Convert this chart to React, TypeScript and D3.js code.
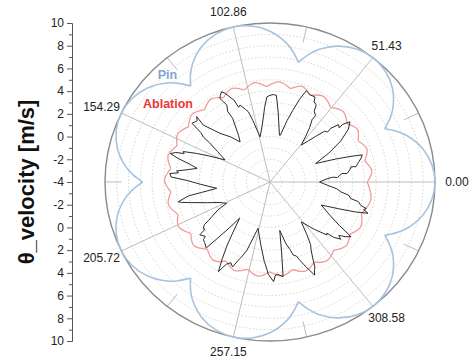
import { useEffect, useRef } from "react";
import * as d3 from "d3";

// angular axis (degrees) and radial axis
const angleLabels = [0, 51.43, 102.86, 154.29, 205.72, 257.15, 308.58];
const radialTicks = [-4, -2, 0, 2, 4, 6, 8, 10];

// Pin: one lobe (offset from the spoke in degrees -> value), repeated on each spoke
const pinLobeOffsets = [-25.71, -24.5, -22.5, -19.29, -12.86, -6.43, 0, 6.43, 12.86, 19.29, 22.5, 24.5, 25.71];
const pinLobeValues = [6.8, 7.13, 7.65, 8.33, 9.28, 9.82, 10, 9.82, 9.28, 8.33, 7.65, 7.13, 6.8];

// Ablation: scallops, cusp angle / cusp value / peak value
const ablationCuspAngles = [0, 13, 26, 38, 52, 66, 78, 92, 105, 118, 131, 145, 158, 172, 186, 200, 214, 228, 242, 256, 270, 284, 298, 312, 326, 340];
const ablationCuspValues = [4.25, 4.25, 4.3, 4.3, 4.35, 4.35, 4.4, 4.4, 4.4, 4.4, 4.45, 4.45, 4.5, 4.5, 4.45, 4.3, 4.1, 3.95, 3.9, 3.9, 3.9, 3.95, 4.0, 4.1, 4.2, 4.25];
const ablationPeakValues = [4.7, 4.72, 4.75, 4.78, 4.8, 4.85, 4.85, 4.85, 4.85, 4.85, 4.9, 4.9, 4.95, 4.95, 4.85, 4.7, 4.55, 4.4, 4.35, 4.35, 4.35, 4.4, 4.45, 4.55, 4.65, 4.7];

// θ velocity trace (angle in degrees, value)
const traceAngles = [
  0, 3, 4.5, 4, 7, 6.5, 9, 11, 10.5, 13, 15, 17, 18.5, 20, 22.8,
  27, 31, 35, 38, 39.5, 39, 41, 42.5, 42, 44, 46, 48, 50.8,
  53, 55, 57, 56.5, 59, 60, 62, 63, 66, 69, 71, 73, 75, 78,
  79, 83.4, 85, 86, 88, 90, 92, 94, 95.6, 98, 102,
  105, 106.5, 108, 110.6, 112, 113, 116, 117.3, 119, 120, 118.4, 120, 119.5, 121.7, 123, 125.7,
  130, 134.7, 136, 138.5, 137.2, 139, 140, 142, 143.5, 145, 146, 149, 153,
  156, 158, 160, 161, 162, 163.5, 165, 167, 169,
  171, 173, 174, 175, 177, 179, 182, 187,
  189, 190, 192.6, 193.5, 195, 199, 203, 207,
  209, 212, 213, 214, 216, 217, 218, 221, 222, 224, 227, 228, 229.5, 231,
  235, 237, 239, 241, 242, 243, 245, 246, 247, 249, 250, 252, 256,
  262, 266, 267, 269, 272, 273, 274, 277.6, 279, 281,
  284, 286, 287, 289, 290, 292, 294.8, 296, 297, 298, 300, 302, 304, 307,
  312, 316, 317, 318, 320, 321, 322, 323, 325, 327, 330, 335,
  338, 340, 341.7, 343, 344, 345, 347, 348, 350, 352, 354, 356, 360,
];
const traceValues = [
  0.2, 0.76, 1.32, 1.74, 2.16, 2.58, 2.86, 3, 3.42, 3.7, 3.98, 4.19, 3, 1.88, 0.2,
  1.6, 3, 4.12, 4.61, 3.98, 3.56, 3.7, 3, 2.58, 2.44, 1.6, 0.9, 0.2,
  1.04, 1.88, 2.58, 3, 3.28, 3.84, 3.98, 4.4, 4.4, 4.61, 3.7, 2.58, 1.6, 0.2,
  0.2, 2.09, 3, 3.66, 3.7, 3.63, 3.5, 2.58, 1.74, 0.9, 0.06,
  1.6, 2.44, 2.72, 3.24, 3.1, 3.84, 4.68, 4.95, 4.7, 4.5, 3.7, 3.2, 2.44, 1.38, 0.9, 0.34,
  1.18, 2.02, 2.5, 3.56, 4.47, 4.2, 4.26, 4.4, 3.28, 2.9, 2.2, 1.18, 0.28,
  1.6, 2.72, 3.84, 3.7, 4.4, 4.82, 4.12, 3, 2.3,
  3, 3.98, 3.8, 4.54, 4.4, 3, 1.88, 0.55,
  1.88, 3, 3.98, 3.7, 3, 1.6, 0.62, 0.13,
  1.04, 1.88, 2.2, 2.72, 3, 2.9, 3.56, 3.28, 3.6, 3.7, 3.94, 2.72, 1.32, 0.09,
  1.6, 2.72, 3.84, 5.03, 4.5, 4.12, 3.84, 4.0, 4.12, 3.28, 3.0, 2.3, 0.2,
  1.6, 3, 3.3, 4.12, 4.78, 4.3, 4.12, 4.4, 2.3, 0.34,
  1.6, 2.2, 2.72, 2.9, 3.28, 3.98, 5.03, 4.6, 4.4, 3.8, 3, 2.5, 1.6, 0.4,
  1.6, 2.72, 2.6, 3.28, 3.84, 3.5, 3.7, 4.0, 4.4, 3, 1.88, 0.8,
  2.3, 3.7, 4.76, 4.3, 4.5, 3.98, 3.7, 3, 2.8, 2.02, 1.7, 1.04, 0.2,
];

const FONT = "'Liberation Sans', Arial, Helvetica, sans-serif";

export default function App() {
  const ref = useRef<SVGSVGElement>(null);

  useEffect(() => {
    document.body.style.margin = "0";
    const svg = d3.select(ref.current);
    svg.selectAll("*").remove();

    const cx = 270, cy = 182, rx = 165, ry = 159;
    const r = d3.scaleLinear().domain([-4, 10]).range([0, 1]);
    const pt = (deg: number, v: number): [number, number] => {
      const a = (deg * Math.PI) / 180;
      const k = r(v);
      return [cx + rx * k * Math.cos(a), cy - ry * k * Math.sin(a)];
    };

    // grid circles
    const grid = svg.append("g");
    r.ticks(14).filter(v => v > -4 && v < 10).forEach(v => {
      grid.append("ellipse")
        .attr("cx", cx).attr("cy", cy)
        .attr("rx", rx * r(v)).attr("ry", ry * r(v))
        .attr("fill", "none")
        .attr("stroke", "#c8c8c8")
        .attr("stroke-width", 0.8)
        .attr("stroke-dasharray", "1.5,2");
    });

    // spokes
    angleLabels.forEach(a => {
      const [x, y] = pt(a, 10);
      grid.append("line")
        .attr("x1", cx).attr("y1", cy).attr("x2", x).attr("y2", y)
        .attr("stroke", "#bdbdbd").attr("stroke-width", 1);
      const [x1, y1] = pt(a + 25.715, 8.6);
      const [x2, y2] = pt(a + 25.715, 10);
      grid.append("line")
        .attr("x1", x1).attr("y1", y1).attr("x2", x2).attr("y2", y2)
        .attr("stroke", "#bdbdbd").attr("stroke-width", 1);
    });

    // outer circle
    svg.append("ellipse")
      .attr("cx", cx).attr("cy", cy).attr("rx", rx).attr("ry", ry)
      .attr("fill", "none").attr("stroke", "#8a8a8a").attr("stroke-width", 1.4);

    // angle labels
    angleLabels.forEach(a => {
      const rad = (a * Math.PI) / 180;
      const [x, y] = pt(a, 10);
      svg.append("text")
        .attr("x", x + Math.cos(rad) * 15 + Math.cos(rad) * 7)
        .attr("y", y - Math.sin(rad) * 15)
        .attr("text-anchor", "middle")
        .attr("dominant-baseline", "central")
        .attr("font-family", FONT)
        .attr("font-size", 12)
        .attr("fill", "#222")
        .text(a.toFixed(2));
    });

    const line = d3.line<[number, number]>().curve(d3.curveCatmullRom);

    // Pin
    angleLabels.forEach(a => {
      const pts = pinLobeOffsets.map((o, i) => pt(a + o, pinLobeValues[i]));
      svg.append("path")
        .attr("d", line(pts))
        .attr("fill", "none").attr("stroke", "#a6c3e0").attr("stroke-width", 1.6);
    });

    // Ablation
    const scallop = d3.line<[number, number]>().curve(d3.curveNatural);
    ablationCuspAngles.forEach((a, i) => {
      const j = (i + 1) % ablationCuspAngles.length;
      const b = j === 0 ? 360 : ablationCuspAngles[j];
      const pts = [
        pt(a, ablationCuspValues[i]),
        pt((a + b) / 2, ablationPeakValues[i]),
        pt(b, ablationCuspValues[j]),
      ];
      svg.append("path")
        .attr("d", scallop(pts))
        .attr("fill", "none").attr("stroke", "#f29a9a").attr("stroke-width", 1.3);
    });

    // trace
    const tracePts = traceAngles.map((a, i) => pt(a, traceValues[i]));
    svg.append("path")
      .attr("d", d3.line()(tracePts))
      .attr("fill", "none").attr("stroke", "#2b2b2b").attr("stroke-width", 1)
      .attr("stroke-linejoin", "round");

    // legend-like labels
    svg.append("text")
      .attr("x", 167.5).attr("y", 75).attr("text-anchor", "middle").attr("dominant-baseline", "central")
      .attr("font-family", FONT).attr("font-weight", "bold").attr("font-size", 12.5)
      .attr("fill", "#7ea6cf").text("Pin");
    svg.append("text")
      .attr("x", 168).attr("y", 104).attr("text-anchor", "middle").attr("dominant-baseline", "central")
      .attr("font-family", FONT).attr("font-weight", "bold").attr("font-size", 12.5)
      .attr("fill", "#ee3636").text("Ablation");

    // left radial axis (mirrored)
    const yUp = d3.scaleLinear().domain([-4, 10]).range([cy, cy - ry]);
    const yDown = d3.scaleLinear().domain([-4, 10]).range([cy, cy + ry]);
    const ax = 72;
    const minor = r.ticks(14).filter(v => Math.abs(v) % 2 === 1);
    [yUp, yDown].forEach((s, k) => {
      const g = svg.append("g").attr("transform", `translate(${ax},0)`);
      g.call(d3.axisLeft(s)
        .tickValues(k === 0 ? radialTicks : radialTicks.filter(v => v > -4))
        .tickSize(5).tickSizeOuter(0).tickPadding(3)
        .tickFormat(d => String(d)));
      g.append("g").call(d3.axisLeft(s).tickValues(minor).tickSize(3).tickSizeOuter(0).tickFormat(() => ""));
      g.selectAll("path.domain").attr("stroke", "#555");
      g.selectAll("line").attr("stroke", "#555");
      g.selectAll("text").attr("font-family", FONT).attr("font-size", 12).attr("fill", "#222");
    });

    svg.append("text")
      .attr("transform", `translate(26,${cy}) rotate(-90)`)
      .attr("text-anchor", "middle").attr("dominant-baseline", "central")
      .attr("font-family", FONT).attr("font-weight", "bold").attr("font-size", 22)
      .attr("fill", "#111").text("θ_velocity [m/s]");
  }, []);

  return (
    <svg ref={ref} width={471} height={359}
      style={{ position: "absolute", left: 0, top: 0, background: "#fff" }} />
  );
}
